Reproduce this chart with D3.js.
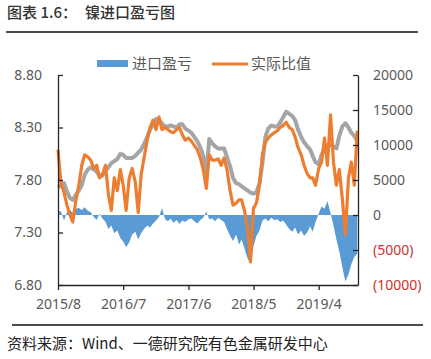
<!DOCTYPE html>
<html>
<head>
<meta charset="utf-8">
<script src="https://cdn.jsdelivr.net/npm/d3@7"></script>
<style>
  body { margin: 0; background: #fff; }
  text { font-family: "Noto Sans", "Noto Sans CJK SC", sans-serif; }
  .cjk { font-family: "Noto Sans CJK SC", sans-serif; }
</style>
</head>
<body>
<div id="chart"></div>
<script>
'use strict';

// semi-monthly samples, 1st and 16th, from 2015/8
var ratioImport = [ // gray line, left axis (no legend entry)
  7.73, 7.75, 7.77, 7.69, 7.63, 7.61, 7.66, 7.70, 7.75, 7.85,
  7.90, 7.92, 7.90, 7.88, 7.84, 7.84, 7.89, 7.92, 7.96, 7.98,
  8.00, 8.05, 8.04, 8.01, 8.01, 8.01, 8.03, 8.06, 8.09, 8.14,
  8.21, 8.28, 8.33, 8.38, 8.37, 8.34, 8.31, 8.31, 8.32, 8.31,
  8.30, 8.33, 8.33, 8.29, 8.27, 8.25, 8.21, 8.17, 8.11, 8.03,
  7.86, 8.19, 8.15, 8.12, 8.10, 8.10, 8.10, 8.02, 7.93, 7.82,
  7.77, 7.76, 7.74, 7.72, 7.70, 7.68, 7.67, 7.68, 7.77, 7.96,
  8.21, 8.29, 8.32, 8.31, 8.31, 8.35, 8.40, 8.45, 8.43, 8.41,
  8.37, 8.28, 8.21, 8.16, 8.12, 8.09, 8.03, 7.97, 7.95, 8.04,
  8.10, 8.13, 8.13, 8.12, 8.10, 8.22, 8.31, 8.34, 8.30, 8.25,
  8.22, 8.17
];
var ratioActual = [ // 实际比值, left axis
  8.09, 7.77, 7.68, 7.56, 7.47, 7.40, 7.61, 7.75, 7.94, 8.04,
  8.02, 7.99, 7.91, 7.94, 7.82, 7.85, 7.94, 7.66, 7.51, 7.82,
  7.70, 7.90, 7.75, 7.51, 7.82, 7.91, 7.78, 7.49, 7.85, 8.01,
  8.18, 8.30, 8.37, 8.28, 8.40, 8.28, 8.30, 8.28, 8.26, 8.25,
  8.28, 8.30, 8.23, 8.18, 8.20, 8.17, 8.13, 8.09, 8.01, 7.90,
  7.72, 8.04, 7.99, 7.99, 8.00, 7.94, 8.01, 7.90, 7.70, 7.56,
  7.58, 7.61, 7.61, 7.51, 7.34, 7.02, 7.53, 7.58, 7.75, 8.04,
  8.16, 8.20, 8.23, 8.25, 8.27, 8.30, 8.32, 8.35, 8.30, 8.28,
  8.21, 8.11, 8.04, 7.94, 7.86, 7.82, 7.82, 7.75, 7.91, 7.97,
  8.20, 7.94, 8.42, 7.97, 7.75, 7.90, 7.61, 7.28, 7.82, 7.97,
  7.75, 8.27
];
var profit = [ // 进口盈亏, right axis
   600,   500,  -800,   400,   700,   300,   900,  1000,   700,  1100,
   600,   400,  -300,  -700,   200,  -500, -1000, -2000, -1500, -2600,
 -2200, -3300, -3800, -4600, -3900, -2800, -2400, -3500, -2600, -2000,
 -1500, -1800, -1200,  -800,  -300,  1000,  -600,  -900,  -500, -1100,
  -700, -1300,  -800, -1000,  -600,  -500,  -900, -1200,  -700,  -400,
   500,  -600,  -500,  -900,  -400,  -700, -1000, -2000, -3000, -3700,
 -2800, -4200, -3500, -4800, -6200, -7000, -4500, -3000, -2200,  -800,
  -500,  -900,  -400,  -700,  -600, -1000,  -800, -1400, -2000, -2400,
 -1800, -2800, -2200, -3000, -2500, -1600, -2400, -1000,   200,  1200,
   900,  2000,   300, -1500, -3500, -5200, -7500, -9500, -8500, -7000,
 -6000, -5500
];
var leftTicks = [6.8, 7.3, 7.8, 8.3, 8.8];
var rightTicks = [-10000, -5000, 0, 5000, 10000, 15000, 20000];
var xTicks = ['2015/8', '2016/7', '2017/6', '2018/5', '2019/4'];

var parseYM = d3.timeParse('%Y/%m');
var dates = profit.map(function(d, i) {
  return new Date(2015, 7 + Math.floor(i / 2), i % 2 ? 16 : 1);
});

var width = 431, height = 359;
var svg = d3.select('#chart').append('svg')
  .attr('width', width)
  .attr('height', height);

var x = d3.scaleTime()
  .domain([new Date(2015, 7, 1), new Date(2019, 9, 20)])
  .range([58, 358]);
var yL = d3.scaleLinear().domain([6.8, 8.8]).range([285, 75]);
var yR = d3.scaleLinear().domain([-10000, 20000]).range([285, 75]);

// title + rules
svg.append('text').attr('class', 'cjk')
  .attr('x', 7).attr('y', 13).attr('dy', '0.35em')
  .attr('font-size', 15).attr('font-weight', 500).attr('fill', '#333')
  .text('图表 1.6：');
svg.append('text').attr('class', 'cjk')
  .attr('x', 85).attr('y', 13).attr('dy', '0.35em')
  .attr('font-size', 15).attr('font-weight', 500).attr('fill', '#333')
  .text('镍进口盈亏图');
svg.append('line').attr('x1', 6).attr('x2', 418).attr('y1', 32).attr('y2', 32)
  .attr('stroke', '#111').attr('stroke-width', 1.6);
svg.append('line').attr('x1', 12).attr('x2', 423).attr('y1', 325).attr('y2', 325)
  .attr('stroke', '#111').attr('stroke-width', 1.6);
svg.append('text').attr('class', 'cjk')
  .attr('x', 7).attr('y', 344).attr('dy', '0.35em')
  .attr('font-size', 15).attr('fill', '#222')
  .text('资料来源：Wind、一德研究院有色金属研发中心');

// blue area
var area = d3.area()
  .x(function(d, i) { return x(dates[i]); })
  .y0(yR(0))
  .y1(function(d) { return yR(d); });
svg.append('path').datum(profit)
  .attr('d', area)
  .attr('fill', '#5b9bd5');

var lineL = d3.line()
  .x(function(d, i) { return x(dates[i]); })
  .y(function(d) { return yL(d); });
svg.append('path').datum(ratioImport)
  .attr('d', lineL)
  .attr('fill', 'none')
  .attr('stroke', '#a5a5a5')
  .attr('stroke-width', 4)
  .attr('stroke-linejoin', 'round');
svg.append('path').datum(ratioActual)
  .attr('d', lineL)
  .attr('fill', 'none')
  .attr('stroke', '#ed7d31')
  .attr('stroke-width', 3.2)
  .attr('stroke-linejoin', 'round');

// axes
function styleAxis(g) {
  g.select('.domain').attr('stroke', '#262626').attr('stroke-width', 1.3);
  g.selectAll('.tick line').attr('stroke', '#262626').attr('stroke-width', 1.3);
  g.selectAll('text').attr('font-size', 14).attr('fill', '#595959')
    .attr('font-family', '"Noto Sans", sans-serif');
}

svg.append('g')
  .attr('transform', 'translate(58,0)')
  .call(d3.axisLeft(yL).tickValues(leftTicks).tickSize(-5).tickSizeOuter(0)
    .tickPadding(16).tickFormat(d3.format('.2f')))
  .call(styleAxis);

svg.append('g')
  .attr('transform', 'translate(358,0)')
  .call(d3.axisRight(yR).tickValues(rightTicks).tickSize(-5).tickSizeOuter(0)
    .tickPadding(15)
    .tickFormat(function(v) { return v < 0 ? '(' + (-v) + ')' : String(v); }))
  .call(styleAxis)
  .call(function(g) {
    g.selectAll('text').filter(function(v) { return v < 0; }).attr('fill', '#d0312d');
  });

svg.append('g')
  .attr('transform', 'translate(0,285)')
  .call(d3.axisBottom(x).tickValues(xTicks.map(parseYM)).tickSize(5).tickSizeOuter(0)
    .tickPadding(9).tickFormat(d3.timeFormat('%Y/%-m')))
  .call(styleAxis);

// legend
svg.append('rect').attr('x', 97).attr('y', 60).attr('width', 31).attr('height', 7)
  .attr('fill', '#5b9bd5');
svg.append('text').attr('class', 'cjk')
  .attr('x', 132).attr('y', 64).attr('dy', '0.35em')
  .attr('font-size', 15).attr('fill', '#595959')
  .text('进口盈亏');
svg.append('line').attr('x1', 212).attr('x2', 248).attr('y1', 64).attr('y2', 64)
  .attr('stroke', '#ed7d31').attr('stroke-width', 3);
svg.append('text').attr('class', 'cjk')
  .attr('x', 251).attr('y', 64).attr('dy', '0.35em')
  .attr('font-size', 15).attr('fill', '#595959')
  .text('实际比值');
</script>
</body>
</html>
